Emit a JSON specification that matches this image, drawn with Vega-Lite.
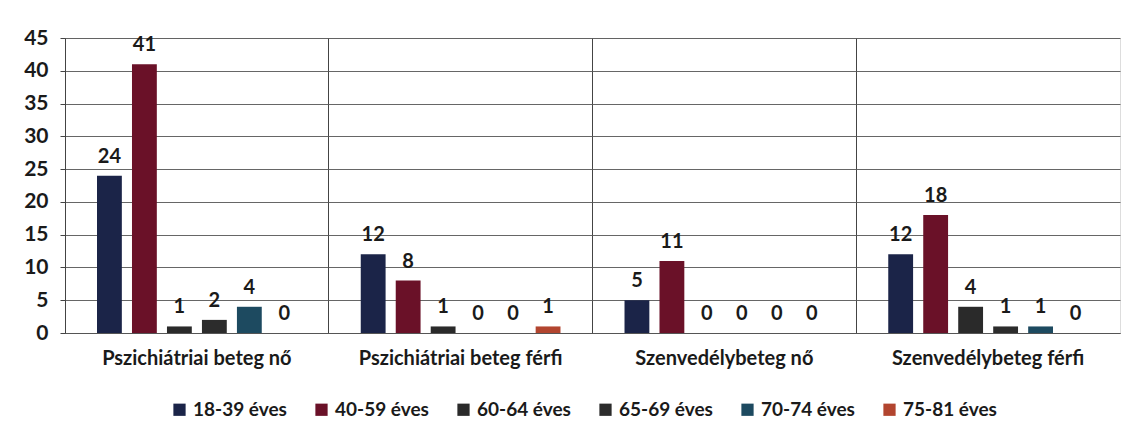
{
  "$schema": "https://vega.github.io/schema/vega-lite/v6.json",
  "width": 1055,
  "height": 295,
  "autosize": {"type": "none"},
  "padding": {"left": 65, "top": 38, "right": 25, "bottom": 107},
  "background": "#ffffff",
  "data": {
    "values": [
      {"group": "Pszichiátriai beteg nő", "age": "18-39 éves", "value": 24},
      {"group": "Pszichiátriai beteg nő", "age": "40-59 éves", "value": 41},
      {"group": "Pszichiátriai beteg nő", "age": "60-64 éves", "value": 1},
      {"group": "Pszichiátriai beteg nő", "age": "65-69 éves", "value": 2},
      {"group": "Pszichiátriai beteg nő", "age": "70-74 éves", "value": 4},
      {"group": "Pszichiátriai beteg nő", "age": "75-81 éves", "value": 0},
      {"group": "Pszichiátriai beteg férfi", "age": "18-39 éves", "value": 12},
      {"group": "Pszichiátriai beteg férfi", "age": "40-59 éves", "value": 8},
      {"group": "Pszichiátriai beteg férfi", "age": "60-64 éves", "value": 1},
      {"group": "Pszichiátriai beteg férfi", "age": "65-69 éves", "value": 0},
      {"group": "Pszichiátriai beteg férfi", "age": "70-74 éves", "value": 0},
      {"group": "Pszichiátriai beteg férfi", "age": "75-81 éves", "value": 1},
      {"group": "Szenvedélybeteg nő", "age": "18-39 éves", "value": 5},
      {"group": "Szenvedélybeteg nő", "age": "40-59 éves", "value": 11},
      {"group": "Szenvedélybeteg nő", "age": "60-64 éves", "value": 0},
      {"group": "Szenvedélybeteg nő", "age": "65-69 éves", "value": 0},
      {"group": "Szenvedélybeteg nő", "age": "70-74 éves", "value": 0},
      {"group": "Szenvedélybeteg nő", "age": "75-81 éves", "value": 0},
      {"group": "Szenvedélybeteg férfi", "age": "18-39 éves", "value": 12},
      {"group": "Szenvedélybeteg férfi", "age": "40-59 éves", "value": 18},
      {"group": "Szenvedélybeteg férfi", "age": "60-64 éves", "value": 4},
      {"group": "Szenvedélybeteg férfi", "age": "65-69 éves", "value": 1},
      {"group": "Szenvedélybeteg férfi", "age": "70-74 éves", "value": 1},
      {"group": "Szenvedélybeteg férfi", "age": "75-81 éves", "value": 0}
    ]
  },
  "encoding": {
    "x": {
      "field": "group", "type": "nominal", "sort": null, "title": null,
      "scale": {"paddingInner": 0, "paddingOuter": 0},
      "axis": {
        "labelAngle": 0, "labelFont": "Lato", "labelFontWeight": "bold", "labelFontSize": 20,
        "labelColor": "#1a1a1a", "labelPadding": 15, "ticks": false, "labelLimit": 400,
        "grid": true, "bandPosition": 0, "gridColor": "#444444", "gridWidth": 1,
        "domainColor": "#555555", "domainWidth": 1
      }
    },
    "xOffset": {
      "field": "age", "type": "nominal", "sort": null,
      "scale": {"paddingInner": 0.29, "paddingOuter": 0.915}
    },
    "y": {
      "field": "value", "type": "quantitative", "title": null,
      "scale": {"domain": [0, 45], "nice": false},
      "axis": {
        "values": [0, 5, 10, 15, 20, 25, 30, 35, 40, 45],
        "labelFont": "Lato", "labelFontWeight": "bold", "labelFontSize": 21,
        "labelColor": "#1a1a1a", "labelPadding": 12, "tickSize": 5, "tickColor": "#444444",
        "gridColor": "#555555", "gridWidth": 1, "gridOpacity": 0.9,
        "domainColor": "#444444"
      }
    }
  },
  "layer": [
    {
      "mark": {"type": "bar"},
      "encoding": {
        "color": {
          "field": "age", "type": "nominal", "sort": null,
          "scale": {
            "domain": ["18-39 éves", "40-59 éves", "60-64 éves", "65-69 éves", "70-74 éves", "75-81 éves"],
            "range": ["#1b2448", "#6a1128", "#2a2a2a", "#2c2c2c", "#1d4a60", "#b2452f"]
          },
          "legend": {
            "title": null, "orient": "none", "legendX": 105, "legendY": 362,
            "direction": "horizontal", "symbolType": "square", "symbolSize": 150,
            "symbolStrokeWidth": 0, "labelFont": "Lato", "labelFontWeight": "bold",
            "labelFontSize": 19, "labelColor": "#1a1a1a", "columnPadding": 25, "labelOffset": 4
          }
        }
      }
    },
    {
      "mark": {"type": "text", "baseline": "bottom", "dy": -9, "font": "Lato", "fontWeight": "bold", "fontSize": 20, "color": "#1a1a1a"},
      "encoding": {"text": {"field": "value", "type": "quantitative"}}
    }
  ]
}
